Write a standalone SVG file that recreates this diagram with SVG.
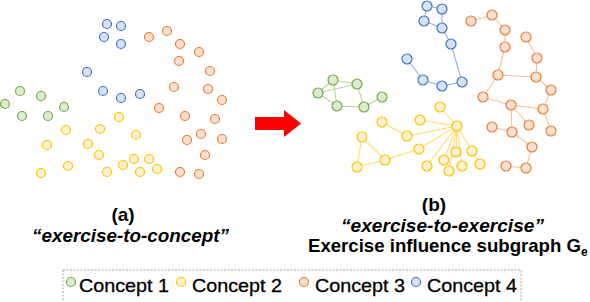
<svg xmlns="http://www.w3.org/2000/svg" width="590" height="302" viewBox="0 0 590 302">
<style>
.g{fill:#dcebd1;stroke:#70ad47;stroke-width:1.2}
.y{fill:#fff2cc;stroke:#ffc000;stroke-width:1.2}
.o{fill:#fbe0d2;stroke:#ed7d31;stroke-width:1.2}
.b{fill:#d7e1f4;stroke:#4472c4;stroke-width:1.2}
.eg{stroke:#b5d79c;stroke-width:1.1;fill:none}
.ey{stroke:#ffdc70;stroke-width:1.1;fill:none}
.eo{stroke:#f6bf9b;stroke-width:1.1;fill:none}
.eb{stroke:#98b2de;stroke-width:1.1;fill:none}
.lbl{font-family:"Liberation Sans",Arial,sans-serif;font-weight:bold;fill:#000}
.it{font-style:italic}
.leg{font-family:"Liberation Sans",Arial,sans-serif;font-size:19px;fill:#000;stroke:#000;stroke-width:0.3}
</style>

<!-- left panel: exercise-to-concept -->
<g id="left-panel">
<g id="lb1"><circle class="b" cx="107" cy="24" r="4.5"/></g>
<g id="lb2"><circle class="b" cx="121" cy="26" r="4.5"/></g>
<g id="lb3"><circle class="b" cx="104" cy="37" r="4.5"/></g>
<g id="lb4"><circle class="b" cx="121" cy="44" r="4.5"/></g>
<g id="lb5"><circle class="b" cx="87" cy="72" r="4.5"/></g>
<g id="lb6"><circle class="b" cx="103" cy="91" r="4.5"/></g>
<g id="lb7"><circle class="b" cx="121" cy="98" r="4.5"/></g>
<g id="lb8"><circle class="b" cx="140" cy="94" r="4.5"/></g>

<g id="lo1"><circle class="o" cx="149" cy="37" r="4.5"/></g>
<g id="lo2"><circle class="o" cx="167" cy="31" r="4.5"/></g>
<g id="lo3"><circle class="o" cx="180" cy="44" r="4.5"/></g>
<g id="lo4"><circle class="o" cx="199" cy="52" r="4.5"/></g>
<g id="lo5"><circle class="o" cx="179" cy="61" r="4.5"/></g>
<g id="lo6"><circle class="o" cx="210" cy="71" r="4.5"/></g>
<g id="lo7"><circle class="o" cx="174" cy="87" r="4.5"/></g>
<g id="lo8"><circle class="o" cx="208" cy="89" r="4.5"/></g>
<g id="lo9"><circle class="o" cx="222" cy="100" r="4.5"/></g>
<g id="lo10"><circle class="o" cx="159" cy="108" r="4.5"/></g>
<g id="lo11"><circle class="o" cx="185" cy="116" r="4.5"/></g>
<g id="lo12"><circle class="o" cx="215" cy="119" r="4.5"/></g>
<g id="lo13"><circle class="o" cx="201" cy="134" r="4.5"/></g>
<g id="lo14"><circle class="o" cx="187" cy="140" r="4.5"/></g>
<g id="lo15"><circle class="o" cx="222" cy="139" r="4.5"/></g>
<g id="lo16"><circle class="o" cx="205" cy="155" r="4.5"/></g>
<g id="lo17"><circle class="o" cx="180" cy="172" r="4.5"/></g>
<g id="lo18"><circle class="o" cx="199" cy="174" r="4.5"/></g>

<g id="lg1"><circle class="g" cx="20" cy="91" r="4.5"/></g>
<g id="lg2"><circle class="g" cx="41" cy="96" r="4.5"/></g>
<g id="lg3"><circle class="g" cx="5" cy="104" r="4.5"/></g>
<g id="lg4"><circle class="g" cx="22" cy="116" r="4.5"/></g>
<g id="lg5"><circle class="g" cx="48" cy="116" r="4.5"/></g>
<g id="lg6"><circle class="g" cx="64" cy="107" r="4.5"/></g>

<g id="ly1"><circle class="y" cx="119" cy="117" r="4.5"/></g>
<g id="ly2"><circle class="y" cx="100" cy="129" r="4.5"/></g>
<g id="ly3"><circle class="y" cx="66" cy="130" r="4.5"/></g>
<g id="ly4"><circle class="y" cx="136" cy="135" r="4.5"/></g>
<g id="ly5"><circle class="y" cx="47" cy="145" r="4.5"/></g>
<g id="ly6"><circle class="y" cx="88" cy="144" r="4.5"/></g>
<g id="ly7"><circle class="y" cx="99" cy="155" r="4.5"/></g>
<g id="ly8"><circle class="y" cx="134" cy="159" r="4.5"/></g>
<g id="ly9"><circle class="y" cx="149" cy="159" r="4.5"/></g>
<g id="ly10"><circle class="y" cx="68" cy="166" r="4.5"/></g>
<g id="ly11"><circle class="y" cx="123" cy="165" r="4.5"/></g>
<g id="ly12"><circle class="y" cx="157" cy="169" r="4.5"/></g>
<g id="ly13"><circle class="y" cx="41" cy="173" r="4.5"/></g>
<g id="ly14"><circle class="y" cx="107" cy="172" r="4.5"/></g>
<g id="ly15"><circle class="y" cx="140" cy="172" r="4.5"/></g>
</g>

<!-- arrow -->
<g id="arrow">
<polygon fill="#ff0000" points="255,117 284,117 284,110 301,123.5 284,137 284,130 255,130"/>
</g>

<!-- right panel connectors -->
<g id="connectors">
<g class="eb">
<line x1="427" y1="6" x2="442" y2="9"/>
<line x1="427" y1="6" x2="424" y2="21"/>
<line x1="442" y1="9" x2="442" y2="28"/>
<line x1="424" y1="21" x2="442" y2="28"/>
<line x1="442" y1="28" x2="451" y2="44"/>
<line x1="451" y1="44" x2="462" y2="82"/>
<line x1="462" y1="82" x2="442" y2="86"/>
<line x1="442" y1="86" x2="423" y2="80"/>
<line x1="423" y1="80" x2="407" y2="59"/>
</g>
<g class="eo">
<line x1="471" y1="21" x2="492" y2="15"/>
<line x1="492" y1="15" x2="505" y2="30"/>
<line x1="505" y1="30" x2="505" y2="47"/>
<line x1="505" y1="47" x2="498" y2="75"/>
<line x1="526" y1="37" x2="537" y2="58"/>
<line x1="537" y1="58" x2="536" y2="77"/>
<line x1="498" y1="75" x2="536" y2="77"/>
<line x1="498" y1="75" x2="483" y2="97"/>
<line x1="536" y1="77" x2="551" y2="90"/>
<line x1="483" y1="97" x2="511" y2="105"/>
<line x1="511" y1="105" x2="543" y2="109"/>
<line x1="551" y1="90" x2="543" y2="109"/>
<line x1="543" y1="109" x2="551" y2="131"/>
<line x1="511" y1="105" x2="529" y2="125"/>
<line x1="511" y1="105" x2="512" y2="132"/>
<line x1="492" y1="127" x2="512" y2="132"/>
<line x1="512" y1="132" x2="532" y2="147"/>
<line x1="532" y1="147" x2="526" y2="168"/>
<line x1="526" y1="168" x2="506" y2="166"/>
</g>
<g class="eg">
<line x1="333" y1="80" x2="357" y2="84"/>
<line x1="318" y1="93" x2="333" y2="80"/>
<line x1="318" y1="93" x2="357" y2="84"/>
<line x1="333" y1="80" x2="337" y2="106"/>
<line x1="318" y1="93" x2="337" y2="106"/>
<line x1="337" y1="106" x2="364" y2="107"/>
<line x1="357" y1="84" x2="364" y2="107"/>
<line x1="364" y1="107" x2="382" y2="97"/>
</g>
<g class="ey">
<line x1="457" y1="126" x2="440" y2="107"/>
<line x1="457" y1="126" x2="420" y2="120"/>
<line x1="457" y1="126" x2="407" y2="136"/>
<line x1="457" y1="126" x2="419" y2="149"/>
<line x1="457" y1="126" x2="427" y2="166"/>
<line x1="457" y1="126" x2="444" y2="160"/>
<line x1="457" y1="126" x2="449" y2="171"/>
<line x1="457" y1="126" x2="456" y2="152"/>
<line x1="457" y1="126" x2="462" y2="166"/>
<line x1="457" y1="126" x2="472" y2="151"/>
<line x1="472" y1="151" x2="480" y2="164"/>
<line x1="382" y1="122" x2="407" y2="136"/>
<line x1="362" y1="137" x2="357" y2="167"/>
<line x1="362" y1="137" x2="385" y2="160"/>
<line x1="357" y1="167" x2="385" y2="160"/>
<line x1="385" y1="160" x2="419" y2="149"/>
</g>
</g>

<!-- right panel nodes -->
<g id="right-panel">
<g id="rb1"><circle class="b" cx="427" cy="6" r="5"/></g>
<g id="rb2"><circle class="b" cx="442" cy="9" r="5"/></g>
<g id="rb3"><circle class="b" cx="424" cy="21" r="5"/></g>
<g id="rb4"><circle class="b" cx="442" cy="28" r="5"/></g>
<g id="rb5"><circle class="b" cx="451" cy="44" r="5"/></g>
<g id="rb6"><circle class="b" cx="407" cy="59" r="5"/></g>
<g id="rb7"><circle class="b" cx="423" cy="80" r="5"/></g>
<g id="rb8"><circle class="b" cx="442" cy="86" r="5"/></g>
<g id="rb9"><circle class="b" cx="462" cy="82" r="5"/></g>

<g id="ro1"><circle class="o" cx="471" cy="21" r="5"/></g>
<g id="ro2"><circle class="o" cx="492" cy="15" r="5"/></g>
<g id="ro3"><circle class="o" cx="505" cy="30" r="5"/></g>
<g id="ro4"><circle class="o" cx="505" cy="47" r="5"/></g>
<g id="ro5"><circle class="o" cx="526" cy="37" r="5"/></g>
<g id="ro6"><circle class="o" cx="537" cy="58" r="5"/></g>
<g id="ro7"><circle class="o" cx="498" cy="75" r="5"/></g>
<g id="ro8"><circle class="o" cx="536" cy="77" r="5"/></g>
<g id="ro9"><circle class="o" cx="551" cy="90" r="5"/></g>
<g id="ro10"><circle class="o" cx="483" cy="97" r="5"/></g>
<g id="ro11"><circle class="o" cx="511" cy="105" r="5"/></g>
<g id="ro12"><circle class="o" cx="543" cy="109" r="5"/></g>
<g id="ro13"><circle class="o" cx="529" cy="125" r="5"/></g>
<g id="ro14"><circle class="o" cx="492" cy="127" r="5"/></g>
<g id="ro15"><circle class="o" cx="512" cy="132" r="5"/></g>
<g id="ro16"><circle class="o" cx="551" cy="131" r="5"/></g>
<g id="ro17"><circle class="o" cx="532" cy="147" r="5"/></g>
<g id="ro18"><circle class="o" cx="506" cy="166" r="5"/></g>
<g id="ro19"><circle class="o" cx="526" cy="168" r="5"/></g>

<g id="rg1"><circle class="g" cx="333" cy="80" r="5"/></g>
<g id="rg2"><circle class="g" cx="357" cy="84" r="5"/></g>
<g id="rg3"><circle class="g" cx="318" cy="93" r="5"/></g>
<g id="rg4"><circle class="g" cx="337" cy="106" r="5"/></g>
<g id="rg5"><circle class="g" cx="364" cy="107" r="5"/></g>
<g id="rg6"><circle class="g" cx="382" cy="97" r="5"/></g>

<g id="ry-hub"><circle class="y" cx="457" cy="126" r="5"/></g>
<g id="ry1"><circle class="y" cx="440" cy="107" r="5"/></g>
<g id="ry2"><circle class="y" cx="420" cy="120" r="5"/></g>
<g id="ry3"><circle class="y" cx="382" cy="122" r="5"/></g>
<g id="ry4"><circle class="y" cx="407" cy="136" r="5"/></g>
<g id="ry5"><circle class="y" cx="362" cy="137" r="5"/></g>
<g id="ry6"><circle class="y" cx="419" cy="149" r="5"/></g>
<g id="ry7"><circle class="y" cx="385" cy="160" r="5"/></g>
<g id="ry8"><circle class="y" cx="357" cy="167" r="5"/></g>
<g id="ry9"><circle class="y" cx="427" cy="166" r="5"/></g>
<g id="ry10"><circle class="y" cx="444" cy="160" r="5"/></g>
<g id="ry11"><circle class="y" cx="449" cy="171" r="5"/></g>
<g id="ry12"><circle class="y" cx="456" cy="152" r="5"/></g>
<g id="ry13"><circle class="y" cx="462" cy="166" r="5"/></g>
<g id="ry14"><circle class="y" cx="472" cy="151" r="5"/></g>
<g id="ry15"><circle class="y" cx="480" cy="164" r="5"/></g>
</g>

<!-- captions -->
<g id="captions">
<text class="lbl" x="123" y="221" font-size="19" text-anchor="middle">(a)</text>
<text class="lbl it" x="32" y="242" font-size="19" textLength="197" lengthAdjust="spacingAndGlyphs">“exercise-to-concept”</text>
<text class="lbl" x="434" y="211" font-size="19" text-anchor="middle">(b)</text>
<text class="lbl it" x="341" y="232" font-size="19" textLength="203" lengthAdjust="spacingAndGlyphs">“exercise-to-exercise”</text>
<text class="lbl" x="308" y="252" font-size="18.5" textLength="273" lengthAdjust="spacingAndGlyphs">Exercise influence subgraph G</text>
<text class="lbl" x="581" y="256" font-size="12">e</text>
</g>

<!-- legend -->
<g id="legend">
<rect x="63" y="270" width="458" height="40" fill="none" stroke="#a6a6a6" stroke-width="1" stroke-dasharray="2,1.5"/>
<circle class="g" cx="71" cy="282" r="4.5"/>
<text class="leg" x="79" y="292" textLength="90" lengthAdjust="spacingAndGlyphs">Concept 1</text>
<circle class="y" cx="181" cy="282" r="4.5"/>
<text class="leg" x="192" y="292" textLength="90" lengthAdjust="spacingAndGlyphs">Concept 2</text>
<circle class="o" cx="304" cy="282" r="4.5"/>
<text class="leg" x="315" y="292" textLength="90" lengthAdjust="spacingAndGlyphs">Concept 3</text>
<circle class="b" cx="416" cy="282" r="4.5"/>
<text class="leg" x="427" y="292" textLength="90" lengthAdjust="spacingAndGlyphs">Concept 4</text>
</g>
</svg>
